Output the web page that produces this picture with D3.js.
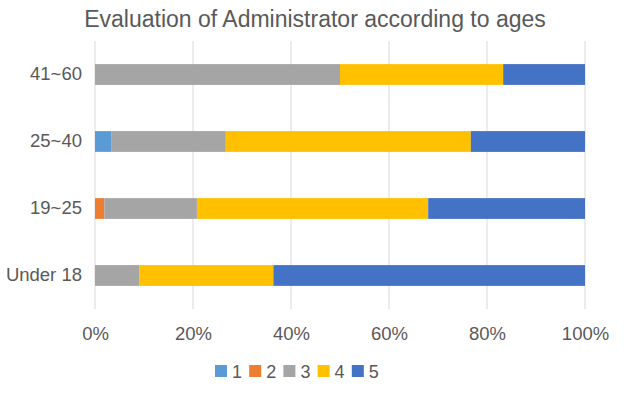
<!DOCTYPE html>
<html>
<head>
<meta charset="utf-8">
<script src="https://cdn.jsdelivr.net/npm/d3@7"></script>
<style>
  body { margin: 0; background: #fff; }
  text { font-family: "Liberation Sans", Arial, sans-serif; fill: #595959; }
</style>
</head>
<body>
<svg id="chart"></svg>
<script>
var width = 628;
var height = 397;

// data (percent of answers per age group)
var categories = ['41~60', '25~40', '19~25', 'Under 18'];
var seriesNames = ['1', '2', '3', '4', '5'];
var s1 = [0, 3.4, 0, 0];
var s2 = [0, 0, 1.9, 0];
var s3 = [50, 23.3, 18.9, 9.1];
var s4 = [33.3, 50, 47.2, 27.3];
var s5 = [16.7, 23.3, 32.0, 63.6];
var ticks = [0, 20, 40, 60, 80, 100];
var colors = ['#5B9BD5', '#ED7D31', '#A5A5A5', '#FFC000', '#4472C4'];

var series = [s1, s2, s3, s4, s5];
var rows = categories.map(function (c, i) {
    var r = {cat: c};
    seriesNames.forEach(function (k, j) { r[k] = series[j][i]; });
    return r;
});

var svg = d3.select('#chart')
    .attr('width', width)
    .attr('height', height);

var x = d3.scaleLinear()
    .domain([0, 100])
    .range([95, 585]);

var y = d3.scaleBand()
    .domain(categories)
    .range([41, 309])
    .paddingInner(0.69)
    .paddingOuter(0.345);

// gridlines
svg.append('g')
    .selectAll('line')
    .data(ticks)
    .enter()
    .append('line')
    .attr('x1', d => x(d))
    .attr('x2', d => x(d))
    .attr('y1', 41)
    .attr('y2', 309)
    .attr('stroke', '#d9d9d9')
    .attr('stroke-width', 1);

var stack = d3.stack().keys(seriesNames);

svg.append('g')
    .selectAll('g')
    .data(stack(rows))
    .enter()
    .append('g')
    .attr('fill', (d, i) => colors[i])
    .selectAll('rect')
    .data(d => d)
    .enter()
    .append('rect')
    .attr('x', d => x(d[0]))
    .attr('y', d => y(d.data.cat))
    .attr('width', d => x(d[1]) - x(d[0]))
    .attr('height', y.bandwidth());

// x axis labels
var xAxis = svg.append('g')
    .attr('transform', 'translate(0, 309)')
    .call(d3.axisBottom(x).tickValues(ticks).tickFormat(d => d + '%').tickSize(0).tickPadding(18));
xAxis.select('.domain').remove();
xAxis.selectAll('text')
    .style('font-size', '18.5px')
    .style('fill', '#595959')
    .style('font-family', '"Liberation Sans", Arial, sans-serif');

// y axis labels
var yAxis = svg.append('g')
    .attr('transform', 'translate(95, 0)')
    .call(d3.axisLeft(y).tickSize(0).tickPadding(13));
yAxis.select('.domain').remove();
yAxis.selectAll('text')
    .style('font-size', '18.5px')
    .style('fill', '#595959')
    .style('font-family', '"Liberation Sans", Arial, sans-serif');

// title
svg.append('text')
    .attr('x', 315)
    .attr('y', 27)
    .attr('text-anchor', 'middle')
    .style('font-size', '23px')
    .text('Evaluation of Administrator according to ages');

// legend
var legend = svg.append('g')
    .selectAll('g')
    .data(seriesNames)
    .enter()
    .append('g')
    .attr('transform', (d, i) => `translate(${215 + i * 34.2}, 365)`);

legend.append('rect')
    .attr('width', 12)
    .attr('height', 12)
    .attr('fill', (d, i) => colors[i]);

legend.append('text')
    .attr('x', 17)
    .attr('y', 13)
    .style('font-size', '18px')
    .text(d => d);
</script>
</body>
</html>
